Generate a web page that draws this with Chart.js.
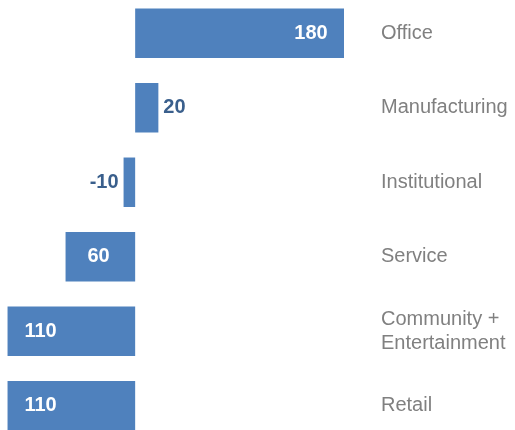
<!DOCTYPE html>
<html lang="en">
<head>
    <meta charset="UTF-8">
    <title>Change by Sector</title>
    <script src="https://cdn.jsdelivr.net/npm/chart.js"></script>
    <style>
        html, body {
            margin: 0;
            padding: 0;
            background: #fff;
            overflow: hidden;
        }

        .chart-box {
            position: absolute;
            left: 0;
            top: -4px;
            width: 515px;
            height: 447px;
        }
    </style>
</head>
<body>
    <div class="chart-box">
        <canvas id="sector-chart"></canvas>
    </div>
    <script>
        const categories = ['Office', 'Manufacturing', 'Institutional', 'Service', ['Community +', 'Entertainment'], 'Retail'];
        const values = [180, 20, -10, -60, -110, -110];
        const valueLabels = ['180', '20', '-10', '60', '110', '110'];

        const barColor = '#4f81bd';
        const outsideColor = '#3a5f8c';
        const grey = '#808080';

        // draws the numbers on/next to each bar
        const barLabels = {
            id: 'barLabels',
            afterDatasetsDraw(chart) {
                const ctx = chart.ctx;
                const meta = chart.getDatasetMeta(0);
                ctx.save();
                ctx.font = 'bold 20px "Liberation Sans", Arial, sans-serif';
                ctx.textBaseline = 'middle';
                meta.data.forEach((bar, i) => {
                    const dir = bar.x >= bar.base ? 1 : -1;
                    const len = Math.abs(bar.x - bar.base);
                    const text = valueLabels[i];
                    if (len > 50) {
                        ctx.fillStyle = '#fff';
                        ctx.textAlign = 'center';
                        ctx.fillText(text, bar.x - dir * 33, bar.y);
                    } else {
                        ctx.fillStyle = outsideColor;
                        ctx.textAlign = dir > 0 ? 'left' : 'right';
                        ctx.fillText(text, bar.x + dir * 5, bar.y);
                    }
                });
                ctx.restore();
            }
        };

        new Chart(document.getElementById('sector-chart'), {
            type: 'bar',
            data: {
                labels: categories,
                datasets: [{
                    data: values,
                    backgroundColor: barColor,
                    borderWidth: 0,
                    barPercentage: 0.664,
                    categoryPercentage: 1
                }]
            },
            options: {
                indexAxis: 'y',
                responsive: true,
                maintainAspectRatio: false,
                animation: false,
                layout: { padding: 0 },
                plugins: {
                    legend: { display: false },
                    tooltip: { enabled: false }
                },
                scales: {
                    x: {
                        display: false,
                        min: -116.5,
                        max: 180
                    },
                    y: {
                        position: 'right',
                        grid: { display: false, drawTicks: false },
                        border: { display: false },
                        ticks: {
                            color: grey,
                            padding: 37,
                            font: { family: '"Liberation Sans", Arial, sans-serif', size: 20 }
                        },
                        afterFit(scale) {
                            // fixed label column; no extra top/bottom room
                            scale.width = 171;
                            scale.paddingTop = 0;
                            scale.paddingBottom = 0;
                        }
                    }
                }
            },
            plugins: [barLabels]
        });
    </script>
</body>
</html>
